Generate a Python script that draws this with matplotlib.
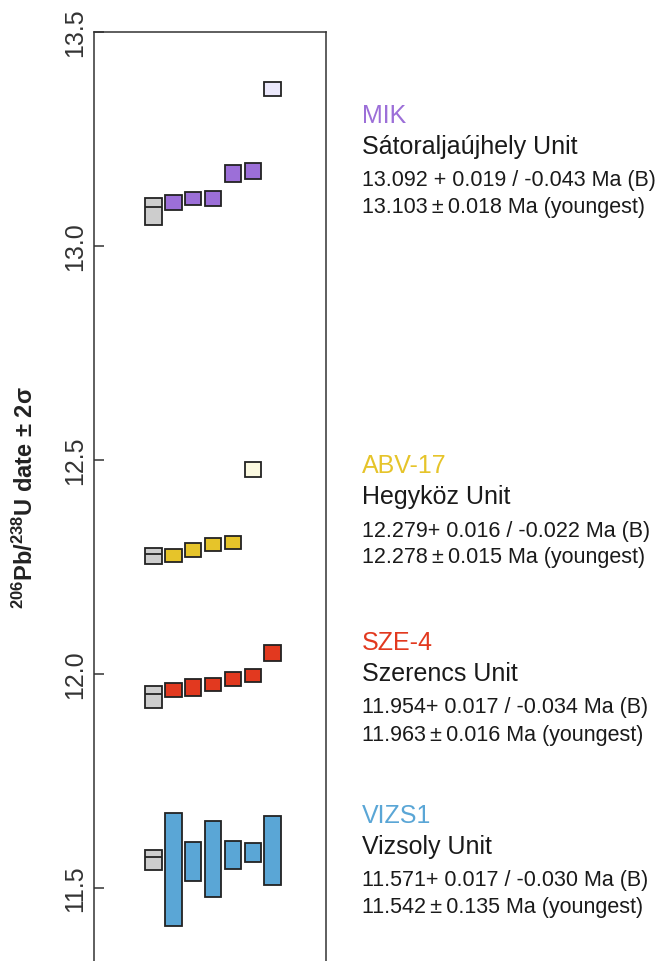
import matplotlib.pyplot as plt
import numpy as np

plt.rcParams['font.family'] = ['Liberation Sans', 'DejaVu Sans']
plt.rcParams['mathtext.fontset'] = 'custom'
plt.rcParams['mathtext.rm'] = 'Liberation Sans'
plt.rcParams['mathtext.bf'] = 'Liberation Sans:bold'
plt.rcParams['mathtext.default'] = 'regular'
plt.rcParams['ytick.direction'] = 'in'

# samples (top to bottom)
samples = ['MIK', 'ABV-17', 'SZE-4', 'VIZS1']
units = ['Sátoraljaújhely Unit', 'Hegyköz Unit', 'Szerencs Unit', 'Vizsoly Unit']
colors = ['#9c6fd8', '#e6c42a', '#e2391f', '#5aa6d6']
light_colors = ['#ebe8fb', '#fbf9e0', '#fbe4e0', '#e3f0f8']

# weighted mean (Bayesian) with asymmetric 2 sigma errors
wm_age = [13.092, 12.279, 11.954, 11.571]
wm_plus = [0.019, 0.016, 0.017, 0.017]
wm_minus = [0.043, 0.022, 0.034, 0.030]
youngest = [13.103, 12.278, 11.963, 11.542]
youngest_err = [0.018, 0.015, 0.016, 0.135]

# single grain dates +- 2 sigma (sorted)
mik_dates = [13.102, 13.110, 13.111, 13.170, 13.175, 13.366]
mik_err = [0.018, 0.015, 0.017, 0.020, 0.018, 0.016]
mik_used = [True, True, True, True, True, False]
abv_dates = [12.277, 12.290, 12.303, 12.307, 12.477]
abv_err = [0.015, 0.016, 0.015, 0.015, 0.018]
abv_used = [True, True, True, True, False]
sze_dates = [11.962, 11.968, 11.975, 11.988, 11.997, 12.049]
sze_err = [0.016, 0.020, 0.015, 0.017, 0.015, 0.018]
sze_used = [True, True, True, True, True, True]
vizs_dates = [11.542, 11.561, 11.567, 11.577, 11.583, 11.587]
vizs_err = [0.132, 0.045, 0.088, 0.032, 0.022, 0.081]
vizs_used = [True, True, True, True, True, True]

dates = [mik_dates, abv_dates, sze_dates, vizs_dates]
errs = [mik_err, abv_err, sze_err, vizs_err]
used = [mik_used, abv_used, sze_used, vizs_used]

yticks = [11.5, 12.0, 12.5, 13.0, 13.5]

fig = plt.figure(figsize=(6.67, 9.62), dpi=100)
ax = fig.add_axes([0.141, 0.0, 0.348, 0.9657])

w = 0.83
edge = '#222222'
for i in range(len(samples)):
    # weighted mean box in grey
    lo = wm_age[i] - wm_minus[i]
    hi = wm_age[i] + wm_plus[i]
    ax.bar(1, hi - lo, bottom=lo, width=w, color='#cdcdcd', edgecolor=edge, linewidth=1.3)
    ax.hlines(wm_age[i], 1 - w/2, 1 + w/2, color=edge, linewidth=1.3)
    d = np.array(dates[i])
    e = np.array(errs[i])
    x = np.arange(2, 2 + len(d))
    cols = [colors[i] if u else light_colors[i] for u in used[i]]
    ax.bar(x, 2*e, bottom=d - e, width=w, color=cols, edgecolor=edge, linewidth=1.3)

ax.set_xlim(-2.0, 9.7)
ax.set_ylim(11.329, 13.5)
ax.set_xticks([])
ax.set_yticks(yticks)
ax.set_yticklabels(['%.1f' % t for t in yticks], rotation=90, va='center', fontsize=18, color='#333333')
ax.tick_params(axis='y', which='both', direction='in', length=7, width=1.1, pad=5, color='#333333')
ax.spines['bottom'].set_visible(False)
for s in ['left', 'right', 'top']:
    ax.spines[s].set_linewidth(1.1)
    ax.spines[s].set_color('#333333')

fig.text(0.038, 0.483, r'$^{206}$Pb/$^{238}$U date ± 2σ', rotation=90, fontsize=17,
         fontweight='bold', ha='center', va='center', color='#222222')

# annotation text on the right
title_base = [123, 473, 650, 823]
x0 = 362 / 667
H = 962
for i in range(len(samples)):
    b = title_base[i]
    sep = ' + ' if i == 0 else '+ '
    fig.text(x0, 1 - b/H, samples[i], color=colors[i], fontsize=18, va='baseline')
    fig.text(x0, 1 - (b + 31)/H, units[i], color='#1a1a1a', fontsize=18, va='baseline')
    fig.text(x0, 1 - (b + 63.5)/H,
             '%.3f%s%.3f / -%.3f Ma (B)' % (wm_age[i], sep, wm_plus[i], wm_minus[i]),
             color='#1a1a1a', fontsize=15.5, va='baseline')
    fig.text(x0, 1 - (b + 90.5)/H,
             '%.3f\u2009±\u2009%.3f Ma (youngest)' % (youngest[i], youngest_err[i]),
             color='#1a1a1a', fontsize=15.5, va='baseline')

fig.savefig('out.png', dpi=100)
